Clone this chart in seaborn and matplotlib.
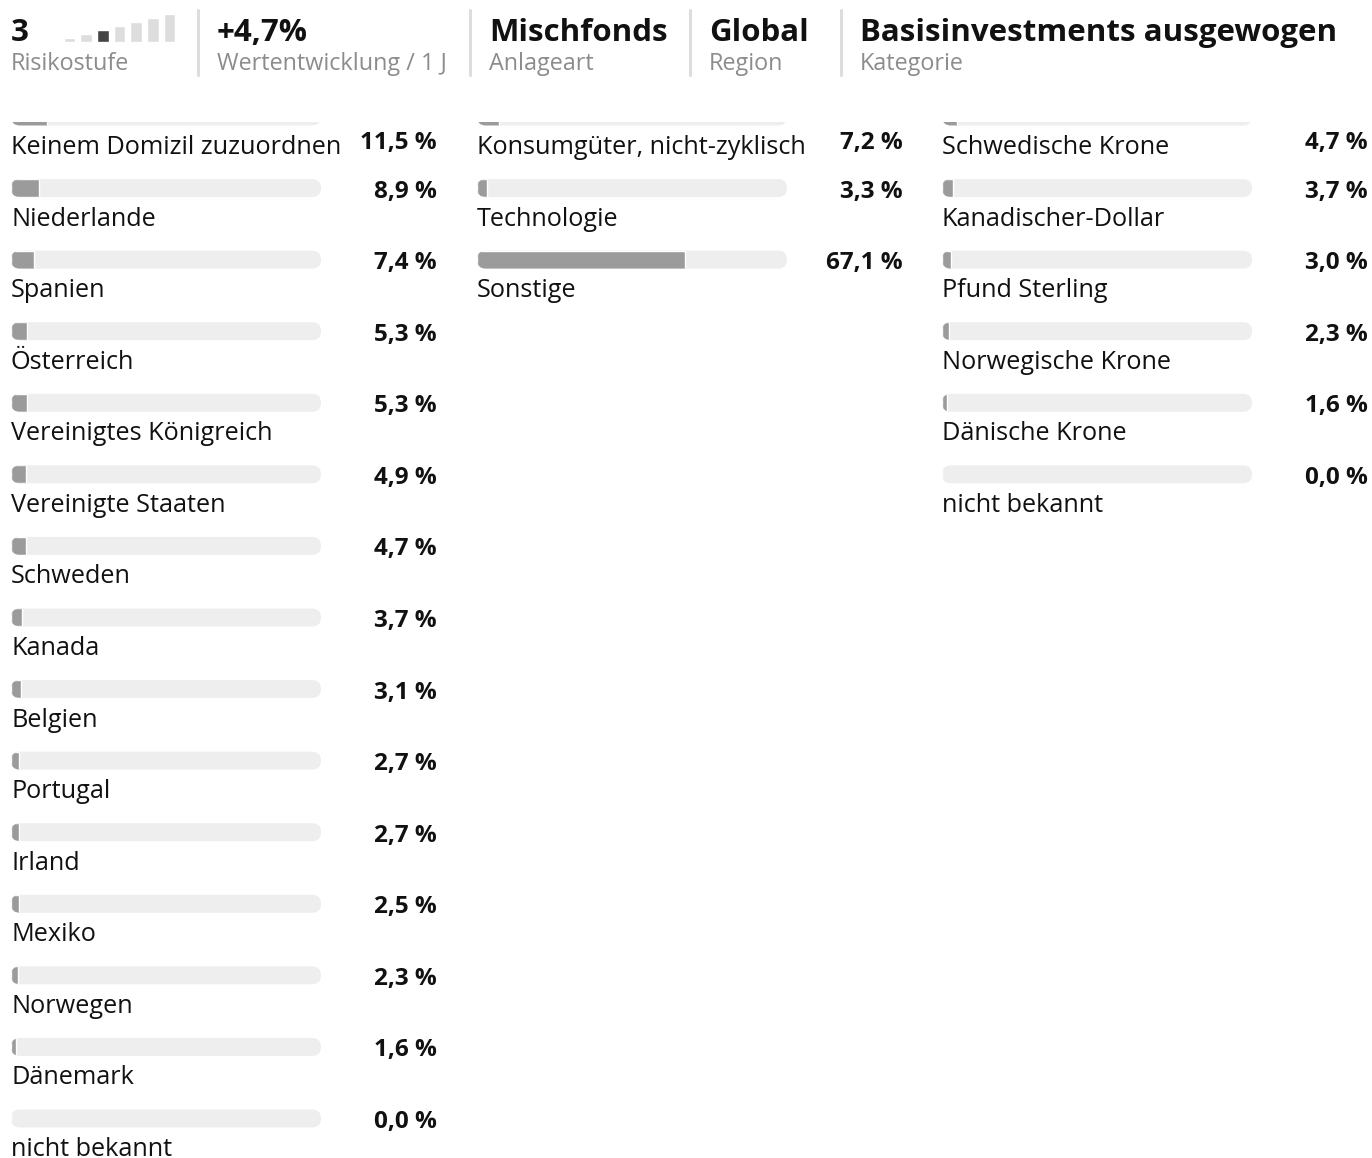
import numpy as np
import pandas as pd
import matplotlib.pyplot as plt
import seaborn as sns
from matplotlib.patches import FancyBboxPatch, Rectangle

# header data
risk_levels = [1, 2, 3, 4, 5, 6, 7]
risk_value = 3
header_values = ["3", "+4,7%", "Mischfonds", "Global", "Basisinvestments ausgewogen"]
header_labels = ["Risikostufe", "Wertentwicklung / 1 J", "Anlageart", "Region", "Kategorie"]

# column 1: countries
countries = ["Keinem Domizil zuzuordnen", "Niederlande", "Spanien", "Österreich",
             "Vereinigtes Königreich", "Vereinigte Staaten", "Schweden", "Kanada",
             "Belgien", "Portugal", "Irland", "Mexiko", "Norwegen", "Dänemark",
             "nicht bekannt"]
country_pct = [11.5, 8.9, 7.4, 5.3, 5.3, 4.9, 4.7, 3.7, 3.1, 2.7, 2.7, 2.5, 2.3, 1.6, 0.0]

# column 2: sectors
sectors = ["Konsumgüter, nicht-zyklisch", "Technologie", "Sonstige"]
sector_pct = [7.2, 3.3, 67.1]

# column 3: currencies
currencies = ["Schwedische Krone", "Kanadischer-Dollar", "Pfund Sterling",
              "Norwegische Krone", "Dänische Krone", "nicht bekannt"]
currency_pct = [4.7, 3.7, 3.0, 2.3, 1.6, 0.0]

W, H = 1372, 1158
TRACK = "#eeeeee"
FILL = "#9b9b9b"
TEXT = "#111111"
GREY = "#8c8c8c"

sns.set_theme(style="white")
plt.rcParams["font.family"] = ["Open Sans", "DejaVu Sans"]

fig = plt.figure(figsize=(W / 100, H / 100), dpi=100)

row0 = 116.5      # px centre of first bar
step = 71.57      # px between rows
bar_px = 18       # bar thickness in px
track_px = 310    # track length in px


def px(x, y):
    return x / W, 1 - y / H


def bar_column(names, values, left, value_right):
    ax = fig.add_axes([left / W, 0, track_px / W, 1])
    df = pd.DataFrame({"name": names, "pct": values, "full": 100.0})
    h = bar_px / step

    sns.barplot(data=df, y="name", x="full", color=TRACK, saturation=1,
                width=h, orient="h", ax=ax)
    tracks = list(ax.patches)
    r = (bar_px / 2) / (track_px / 100)   # radius in x units
    rounded = []
    for p in tracks:
        x, y, w, hh = p.get_x(), p.get_y(), p.get_width(), p.get_height()
        p.remove()
        fb = FancyBboxPatch((x, y), w, hh, boxstyle=f"round,pad=0,rounding_size={r}",
                            mutation_aspect=(hh / 2) / r, fc=TRACK, ec="none", zorder=1)
        ax.add_patch(fb)
        rounded.append(fb)

    before = set(ax.patches)
    sns.barplot(data=df, y="name", x="pct", color=FILL, saturation=1,
                width=h, orient="h", ax=ax)
    fills = [p for p in ax.patches if p not in before]
    for p, clip in zip(fills, rounded):
        p.set_clip_path(clip)
        p.set_zorder(2)

    ax.set_xlim(0, 100)
    ax.set_ylim((H - row0) / step, -row0 / step)
    ax.axis("off")

    vx = (value_right - left) / (track_px / 100)
    for i, (n, v) in enumerate(zip(names, values)):
        ax.text(0, i + 31 / step, n, ha="left", va="center", fontsize=18.2,
                color=TEXT, clip_on=False)
        # first row value sits next to the label (bar is scrolled under the header)
        vy = i + 27 / step if i == 0 else i + 3.5 / step
        ax.text(vx, vy, f"{v:.1f} %".replace(".", ","), ha="right", va="center",
                fontsize=17.5, fontweight="bold", color=TEXT, clip_on=False)
    return ax


bar_column(countries, country_pct, 11, 437)
bar_column(sectors, sector_pct, 477, 903)
bar_column(currencies, currency_pct, 942, 1368)

# white header covering the scrolled top row
fig.add_artist(Rectangle((0, 1 - 122 / H), 1, 122 / H, transform=fig.transFigure,
                         fc="white", ec="none", zorder=5))

# header
head_x = [11, 217, 489, 709, 860]
for x, val, lab in zip(head_x, header_values, header_labels):
    fig.text(*px(x, 41), val, ha="left", va="baseline", fontsize=22.5,
             fontweight="bold", color=TEXT, zorder=6)
    fig.text(*px(x, 70), lab, ha="left", va="baseline", fontsize=16.8,
             color=GREY, zorder=6)

for x in [198, 469.5, 689.5, 840.5]:
    fig.add_artist(plt.Line2D([x / W, x / W], [1 - 10 / H, 1 - 75 / H],
                              transform=fig.transFigure, color="#dddddd", lw=2.2, zorder=6))

# risk indicator
rax = fig.add_axes([61 / W, 1 - 42 / H, 117 / W, 29.5 / H], zorder=7)
rdf = pd.DataFrame({"level": risk_levels, "h": risk_levels})
pal = {l: ("#444444" if l == risk_value else "#dddddd") for l in risk_levels}
sns.barplot(data=rdf, x="level", y="h", hue="level", palette=pal, saturation=1,
            width=0.7, legend=False, bottom=-0.4, ax=rax)
rax.set_xlim(-0.5, 6.5)
rax.set_ylim(-0.4, 7)
rax.axis("off")

fig.savefig("out.png", dpi=100, facecolor="white")
